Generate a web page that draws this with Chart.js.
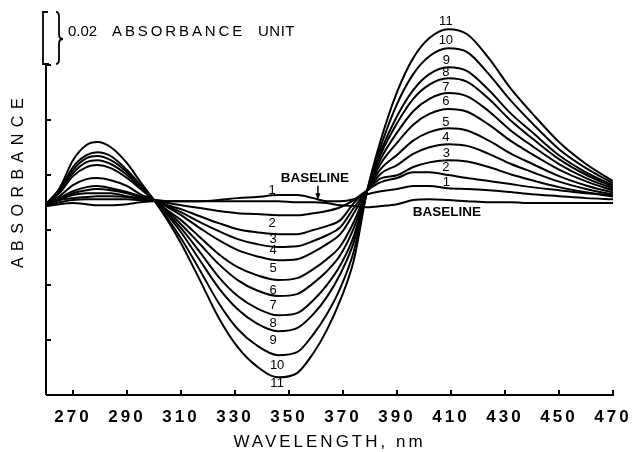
<!DOCTYPE html>
<html><head><meta charset="utf-8">
<script src="https://cdn.jsdelivr.net/npm/chart.js@4"></script>
<style>html,body{margin:0;padding:0;background:#fff}canvas{display:block}</style>
</head><body>
<canvas id="c" width="637" height="452"></canvas>
<script>
// Wavelength (nm) sample points
const wavelengths = [260,265,270,275,279,284,290,295,300,305,310,317,324,331,338,346,353,359,364,369,374,379,384,390,396,402,409,416,424,432,440,450,460,470];
// Absorbance change, in 10^-3 absorbance units, relative to the baseline level
const baseline = [-1.8,-1.1,-0.7,-1.1,-1.5,-1.5,-1.1,-0.4,0,0,0,0,0,0,0,0,-0.4,-0.4,-0.7,-1.5,-1.8,-2.2,-1.8,-1.1,0.4,0.7,0.4,0,-0.4,-0.4,-0.7,-0.7,-0.7,-0.7];
const curve1 = [-1.5,-0.4,0.4,0.7,0.7,0.7,0.7,0.4,0.4,0,0,0,0.4,1.1,1.5,2.2,2.2,1.1,0,0,0.7,2.5,3.6,4.4,5.5,5.5,4.7,4.4,4.0,3.3,2.5,1.8,1.1,0.7];
const curve2 = [-1.1,0.4,1.1,1.5,1.8,1.8,1.5,0.7,0.4,-0.7,-1.5,-2.5,-3.6,-4.4,-4.7,-5.1,-5.1,-4.4,-3.6,-2.2,0.4,4.0,6.9,8.4,10.5,10.5,9.5,8.4,7.3,6.2,5.1,4.0,2.9,2.2];
const curve3 = [-1.1,0.7,2.2,2.9,2.9,2.9,1.8,1.1,0.4,-1.5,-2.9,-5.5,-8.0,-10.2,-11.3,-12.0,-12.0,-10.5,-9.1,-6.9,-0.7,4.0,8.3,9.4,12.4,14.1,14.9,14.4,12.4,9.8,7.6,5.1,3.2,1.7];
const curve4 = [-1.1,1.1,2.9,4.0,4.4,4.0,2.9,1.5,0.4,-1.8,-4.0,-7.6,-10.9,-13.8,-15.6,-16.7,-16.4,-14.5,-12.4,-9.5,-2.5,4.0,10.0,13.1,17.2,19.6,20.7,20.1,17.2,13.6,10.6,7.1,4.4,2.4];
const curve5 = [-1.1,1.1,3.6,5.1,5.5,4.7,3.3,1.8,0.4,-2.2,-5.1,-9.8,-14.2,-17.8,-20.0,-21.5,-21.1,-18.5,-15.6,-12.0,-4.4,4.0,11.7,16.8,22.0,25.1,26.5,25.7,22.0,17.4,13.6,9.1,5.7,3.1];
const curve6 = [-1.1,1.8,5.8,8.0,8.4,7.6,5.5,2.5,0.4,-3.3,-6.9,-13.1,-19.3,-24.0,-26.9,-28.7,-28.0,-24.7,-21.1,-16.4,-7.6,4.0,13.7,21.2,27.8,31.7,33.5,32.5,27.8,22.0,17.1,11.5,7.2,3.9];
const curve7 = [-1.1,2.9,9.1,12.4,13.1,12.0,8.4,4.4,0.4,-3.6,-8.4,-15.6,-22.9,-28.7,-32.4,-34.5,-33.8,-29.8,-25.5,-19.6,-9.8,4.0,15.4,24.9,32.7,37.2,39.3,38.1,32.7,25.8,20.1,13.5,8.4,4.6];
const curve8 = [-1.1,3.3,10.2,14.2,14.9,13.5,9.5,4.7,0.4,-4.4,-9.8,-18.5,-27.6,-34.5,-38.9,-41.5,-40.7,-36.0,-30.5,-23.3,-12.7,4.0,17.0,28.3,37.2,42.4,44.7,43.4,37.2,29.4,22.9,15.3,9.6,5.2];
const curve9 = [-1.1,3.6,11.3,15.6,16.4,14.9,10.5,5.1,0.4,-5.1,-11.3,-21.5,-31.6,-39.3,-44.4,-47.3,-46.2,-41.1,-34.9,-26.5,-14.9,4.0,18.2,30.9,40.4,46.2,48.7,47.3,40.4,32.0,25.1,16.7,10.5,5.8];
const curve10 = [-1.1,4.0,12.4,16.7,17.8,16.4,11.3,5.8,0.4,-6.2,-13.5,-25.1,-37.1,-46.5,-52.4,-56.0,-54.9,-48.4,-41.1,-31.6,-18.2,4.0,20.0,35.3,46.2,52.7,55.6,54.2,46.2,36.7,28.4,18.9,12.0,6.5];
const curve11 = [-1.1,4.7,14.9,20.4,21.5,19.6,13.8,6.9,0.4,-6.9,-15.3,-28.7,-42.5,-53.1,-60.0,-64.0,-62.5,-55.3,-46.9,-36.0,-21.5,4.0,22.2,39.6,52.0,59.3,62.5,60.7,52.0,41.1,32.0,21.5,13.5,7.3];

const xTickLabels = [270,290,310,330,350,370,390,410,430,450,470];
const yTickValues = [49.5,29.5,9.5,-10.5,-30.5,-50.5];   // one tick every 0.02 absorbance unit
const yAxisTop = 49.5;
const scaleBarSpan = 20;  // 0.02 absorbance unit
const scaleBarText = ['0.02','ABSORBANCE','UNIT'];
const xTitle = 'WAVELENGTH, nm';
const yTitle = 'ABSORBANCE';
// curve number annotations, in data coordinates [wavelength, value]
const curveLabels = [
  ['11',408.1,65.5],['10',408.1,58.5],['9',408.3,51.3],['8',408.1,46.9],['7',408.1,41.5],['6',408.1,36.4],
  ['5',408.1,28.7],['4',408.1,23.3],['3',408.3,17.5],['2',408.1,12.4],['1',408.3,6.9],
  ['1',343.7,4.0],['2',343.7,-8.0],['3',344.1,-13.8],['4',344.1,-17.8],['5',344.1,-24.4],['6',344.1,-32.4],
  ['7',344.1,-37.8],['8',344.1,-44.4],['9',344.1,-50.5],['10',345.6,-59.6],['11',345.6,-66.2]
];
const baselineLabels = [['BASELINE',359.6,8.4],['BASELINE',408.5,-4.0]];
const arrow = [360.7, 5.6, 0.3];

const FONT = "'Liberation Sans', Arial, Helvetica, sans-serif";
const series = [baseline,curve1,curve2,curve3,curve4,curve5,curve6,curve7,curve8,curve9,curve10,curve11];

const annot = {
  id:'annot',
  beforeDraw(chart){ chart.ctx.letterSpacing = '3px'; },
  afterDraw(chart){
    const {ctx, chartArea:a} = chart;
    const x = chart.scales.x, y = chart.scales.y;
    ctx.save();
    ctx.letterSpacing = '0px';
    ctx.strokeStyle = '#000'; ctx.fillStyle = '#000';
    ctx.lineWidth = 2;
    const yTop = y.getPixelForValue(yAxisTop);
    ctx.beginPath();
    ctx.moveTo(a.left, yTop); ctx.lineTo(a.left, a.bottom);
    ctx.moveTo(a.left, a.bottom); ctx.lineTo(a.right+1, a.bottom);
    yTickValues.forEach(v=>{const p=y.getPixelForValue(v); ctx.moveTo(a.left, p); ctx.lineTo(a.left+5, p);});
    xTickLabels.forEach(v=>{const p=x.getPixelForValue(v); ctx.moveTo(p, a.bottom); ctx.lineTo(p, a.bottom-5);});
    ctx.stroke();
    // scale bar bracket
    const bTop = y.getPixelForValue(yAxisTop + scaleBarSpan) + 2, bBot = yTop - 1;
    const bx = a.left - 3;
    ctx.lineWidth = 1.8;
    ctx.beginPath();
    ctx.moveTo(bx+5, bTop); ctx.lineTo(bx, bTop); ctx.lineTo(bx, bBot); ctx.lineTo(bx+6, bBot);
    ctx.stroke();
    // curly brace
    const cx = bx + 13, mid = (bTop + bBot)/2 + 1;
    ctx.beginPath();
    ctx.moveTo(cx, bTop);
    ctx.quadraticCurveTo(cx+3, bTop, cx+3, bTop+5);
    ctx.lineTo(cx+3, mid-5);
    ctx.quadraticCurveTo(cx+3, mid, cx+7, mid);
    ctx.quadraticCurveTo(cx+3, mid, cx+3, mid+5);
    ctx.lineTo(cx+3, bBot-5);
    ctx.quadraticCurveTo(cx+3, bBot, cx, bBot);
    ctx.stroke();
    ctx.font = '15px ' + FONT; ctx.textBaseline = 'middle'; ctx.textAlign = 'left';
    ctx.fillText(scaleBarText[0], 68, 32);
    ctx.letterSpacing = '2.9px';
    ctx.fillText(scaleBarText[1], 112, 32);
    ctx.letterSpacing = '0.5px';
    ctx.fillText(scaleBarText[2], 258, 32);
    // y title
    ctx.save();
    ctx.translate(19, 183); ctx.rotate(-Math.PI/2);
    ctx.font = '16px ' + FONT; ctx.letterSpacing = '6.5px'; ctx.textAlign = 'center';
    ctx.fillText(yTitle, 3, 0);
    ctx.restore();
    // curve numbers
    ctx.letterSpacing = '0px';
    ctx.font = '13px ' + FONT; ctx.textAlign = 'center'; ctx.textBaseline = 'middle';
    curveLabels.forEach(([t,w,v])=>ctx.fillText(t, x.getPixelForValue(w), y.getPixelForValue(v)));
    ctx.font = 'bold 13.5px ' + FONT;
    baselineLabels.forEach(([t,w,v])=>ctx.fillText(t, x.getPixelForValue(w), y.getPixelForValue(v)));
    // arrow
    const ax = x.getPixelForValue(arrow[0]), ay1 = y.getPixelForValue(arrow[1]), ay2 = y.getPixelForValue(arrow[2]);
    ctx.lineWidth = 1.5;
    ctx.beginPath(); ctx.moveTo(ax, ay1); ctx.lineTo(ax, ay2-3); ctx.stroke();
    ctx.beginPath(); ctx.moveTo(ax-2.5, ay2-7); ctx.lineTo(ax+2.5, ay2-7); ctx.lineTo(ax, ay2); ctx.closePath(); ctx.fill();
    ctx.restore();
  }
};

new Chart(document.getElementById('c'), {
  type:'line',
  data:{datasets: series.map(s=>({
    data: wavelengths.map((w,i)=>({x:w, y:s[i]})),
    borderColor:'#000', borderWidth:2, pointRadius:0, fill:false, cubicInterpolationMode:'monotone'
  }))},
  options:{
    responsive:false, animation:false, devicePixelRatio:1,
    layout:{padding:{left:46,right:24,top:10,bottom:0}},
    plugins:{legend:{display:false}, tooltip:{enabled:false}},
    scales:{
      x:{type:'linear', min:260, max:470,
        afterBuildTicks:s=>{ s.ticks = xTickLabels.map(v=>({value:v})); },
        grid:{display:false, drawTicks:false}, border:{display:false},
        ticks:{color:'#000', padding:5, autoSkip:false, maxRotation:0,
          font:{family:FONT, size:17, weight:'bold', lineHeight:2}},
        title:{display:true, text:xTitle, color:'#000', padding:{top:0,bottom:7},
          font:{family:FONT, size:17, lineHeight:0.35}}
      },
      y:{display:false, min:-70.5, max:69.5}
    }
  },
  plugins:[annot]
});
</script>
</body></html>
